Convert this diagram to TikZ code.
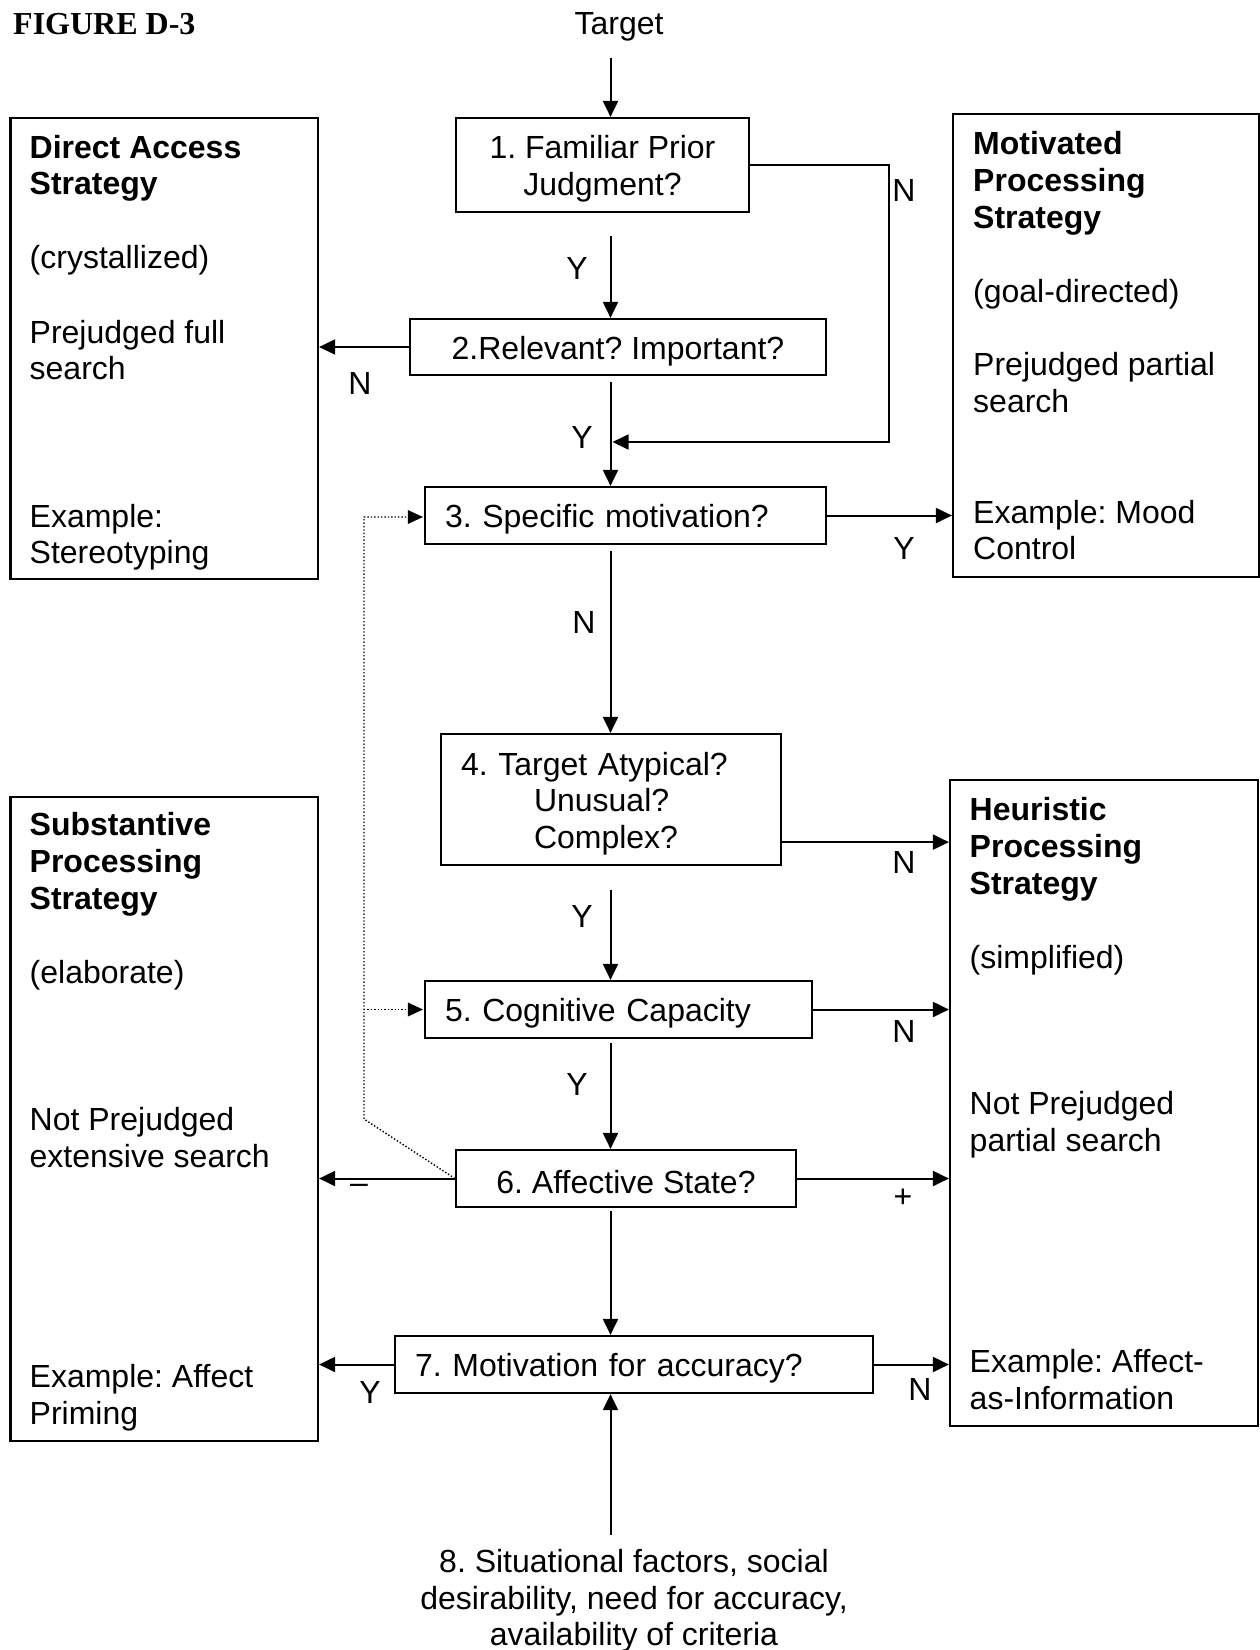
\documentclass[tikz,border=0pt]{standalone}
\usepackage{fontspec}
\setmainfont{Liberation Sans}
\newfontfamily\timesfont{Liberation Serif}
\usetikzlibrary{arrows.meta,calc}
\frenchspacing
\newcommand{\upstrut}{\rule{0pt}{31pt}}
\begin{document}
\begin{tikzpicture}[x=1pt,y=-1pt,
 txt/.style={font=\fontsize{32}{36.5}\selectfont},
 box/.style={draw, line width=2.2pt, inner sep=0pt, txt},
 lbox/.style={box, align=left, inner xsep=20pt},
 cbox/.style={box, align=center},
 sidebox/.style={draw, line width=2.2pt, inner sep=0pt},
 arr/.style={line width=2pt, -{Triangle[length=16pt,width=15pt]}},
 lab/.style={txt, inner sep=0pt},
 ln/.style={txt, inner sep=0pt, anchor=base west},
 bln/.style={ln, font=\fontsize{32}{36}\selectfont\bfseries},
 dotln/.style={line width=1.4pt, dash pattern=on 1.4pt off 2pt}
]
\useasboundingbox (0,0) rectangle (1260,1650);

% title and target
\node[inner sep=0pt, anchor=base west, font=\timesfont\bfseries\fontsize{32}{36}\selectfont] (title) at (13,34) {FIGURE D-3};
\node[lab, anchor=base] (target) at (619,34) {Target};
\coordinate (sp) at (610.5,0);

% side boxes
\node[sidebox, minimum width=307.5pt, minimum height=461pt] (da) at (164.25,348.5) {};
\node[sidebox, minimum width=306pt, minimum height=463pt] (mp) at (1106,345.5) {};
\node[sidebox, minimum width=307.5pt, minimum height=644pt] (sb) at (164.25,1119) {};
\node[sidebox, minimum width=308pt, minimum height=646pt] (hp) at (1104,1103) {};

% side box texts
\node[bln] (da1) at (29.5,158) {Direct Access};
\node[bln] (da2) at (29.5,194) {Strategy};
\node[ln] (da3) at (29.5,268) {(crystallized)};
\node[ln] (da4) at (29.5,343) {Prejudged full};
\node[ln] (da5) at (29.5,379) {search};
\node[ln] (da6) at (29.5,527) {Example:};
\node[ln] (da7) at (29.5,563) {Stereotyping};

\node[bln] (mp1) at (973,154) {Motivated};
\node[bln] (mp2) at (973,191) {Processing};
\node[bln] (mp3) at (973,228) {Strategy};
\node[ln] (mp4) at (973,302) {(goal-directed)};
\node[ln] (mp5) at (973,375) {Prejudged partial};
\node[ln] (mp6) at (973,412) {search};
\node[ln] (mp7) at (973,523) {Example: Mood};
\node[ln] (mp8) at (973,559) {Control};

\node[bln] (sb1) at (29.5,835) {Substantive};
\node[bln] (sb2) at (29.5,872) {Processing};
\node[bln] (sb3) at (29.5,909) {Strategy};
\node[ln] (sb4) at (29.5,983) {(elaborate)};
\node[ln] (sb5) at (29.5,1130) {Not Prejudged};
\node[ln] (sb6) at (29.5,1167) {extensive search};
\node[ln] (sb7) at (29.5,1387) {Example: Affect};
\node[ln] (sb8) at (29.5,1424) {Priming};

\node[bln] (hp1) at (969.5,820) {Heuristic};
\node[bln] (hp2) at (969.5,857) {Processing};
\node[bln] (hp3) at (969.5,894) {Strategy};
\node[ln] (hp4) at (969.5,968) {(simplified)};
\node[ln] (hp5) at (969.5,1114) {Not Prejudged};
\node[ln] (hp6) at (969.5,1151) {partial search};
\node[ln] (hp7) at (969.5,1372) {Example: Affect-};
\node[ln] (hp8) at (969.5,1409) {as-Information};

% decision boxes
\node[cbox, minimum width=293pt, minimum height=94pt] (b1) at (602.5,165) {\upstrut 1. Familiar Prior\\Judgment?};
\node[cbox, minimum width=416pt, minimum height=56pt] (b2) at (618,347) {\upstrut 2.Relevant? Important?};
\node[lbox, text width=361pt, minimum height=57pt] (b3) at (625.5,515.5) {\upstrut 3. Specific motivation?};
\node[lbox, text width=300pt, minimum height=131pt] (b4) at (611,799.5) {\upstrut 4. Target Atypical?\\\hspace*{73pt}Unusual?\\\hspace*{73pt}Complex?};
\node[lbox, text width=347pt, minimum height=57pt] (b5) at (618.5,1009.5) {\upstrut 5. Cognitive Capacity};
\node[cbox, minimum width=340pt, minimum height=57pt] (b6) at (626,1178.5) {\upstrut 6. Affective State?};
\node[lbox, text width=438pt, minimum height=57pt] (b7) at (634,1364.5) {\upstrut 7. Motivation for accuracy?};
\node[txt, align=center, inner sep=0pt] (s8) at (634,1601) {8. Situational factors, social\\desirability, need for accuracy,\\availability of criteria};

% spine arrows
\draw[arr, shorten <=17pt] (target.south -| sp) -- (b1.north -| sp);
\draw[arr, shorten <=23pt] (b1.south -| sp) -- (b2.north -| sp);
\draw[arr, shorten <=6pt] (b2.south -| sp) -- (b3.north -| sp);
\draw[arr, shorten <=6pt] (b3.south -| sp) -- (b4.north -| sp);
\draw[arr, shorten <=24pt] (b4.south -| sp) -- (b5.north -| sp);
\draw[arr, shorten <=4pt] (b5.south -| sp) -- (b6.north -| sp);
\draw[arr, shorten <=3pt] (b6.south -| sp) -- (b7.north -| sp);
\draw[arr, shorten <=14pt] (s8.north -| sp) -- (b7.south -| sp);

% N loop from box 1
\coordinate (lp) at (889,442);
\draw[arr, line width=1.6pt] (b1.east) -| (lp) -- ([xshift=2pt]lp -| sp);

% side arrows
\draw[arr] (b2.west) -- (b2.west -| da.east);
\draw[arr] (b3.east) -- (b3.east -| mp.west);
\draw[arr] ([yshift=24pt]b4.south east) -- ([yshift=24pt]b4.south east -| hp.west);
\draw[arr] (b5.east) -- (b5.east -| hp.west);
\draw[arr] (b6.west) -- (b6.west -| sb.east);
\draw[arr] (b6.east) -- (b6.east -| hp.west);
\draw[arr] (b7.west) -- (b7.west -| sb.east);
\draw[arr] (b7.east) -- (b7.east -| hp.west);

% dotted feedback
\coordinate (dt) at (364,1119);
\coordinate (dtop) at (364,517);
\draw[dotln] (b6.west) -- (dt) -- (dtop) -- ([xshift=-15pt]dtop -| b3.west);
\draw[dotln] (dt |- b5.west) -- ([xshift=-15pt]b5.west);
\fill ([xshift=-1pt]dtop -| b3.west) -- ++(-15,-7) -- ++(0,14) -- cycle;
\fill ([xshift=-1pt]b5.west) -- ++(-15,-7) -- ++(0,14) -- cycle;

% labels
\node[lab] (l1) at (577,268) {Y};
\node[lab] (l2) at (360,383) {N};
\node[lab] (l3) at (904,190) {N};
\node[lab] (l4) at (582,437) {Y};
\node[lab] (l5) at (904,548) {Y};
\node[lab] (l6) at (584,622) {N};
\node[lab] (l7) at (904,862) {N};
\node[lab] (l8) at (582,916) {Y};
\node[lab] (l9) at (904,1031) {N};
\node[lab] (l10) at (577,1084) {Y};
\node[lab] (l11) at (359,1189) {–};
\node[lab] (l12) at (903,1198) {+};
\node[lab] (l13) at (370,1392) {Y};
\node[lab] (l14) at (920,1389) {N};
\end{tikzpicture}
\end{document}
